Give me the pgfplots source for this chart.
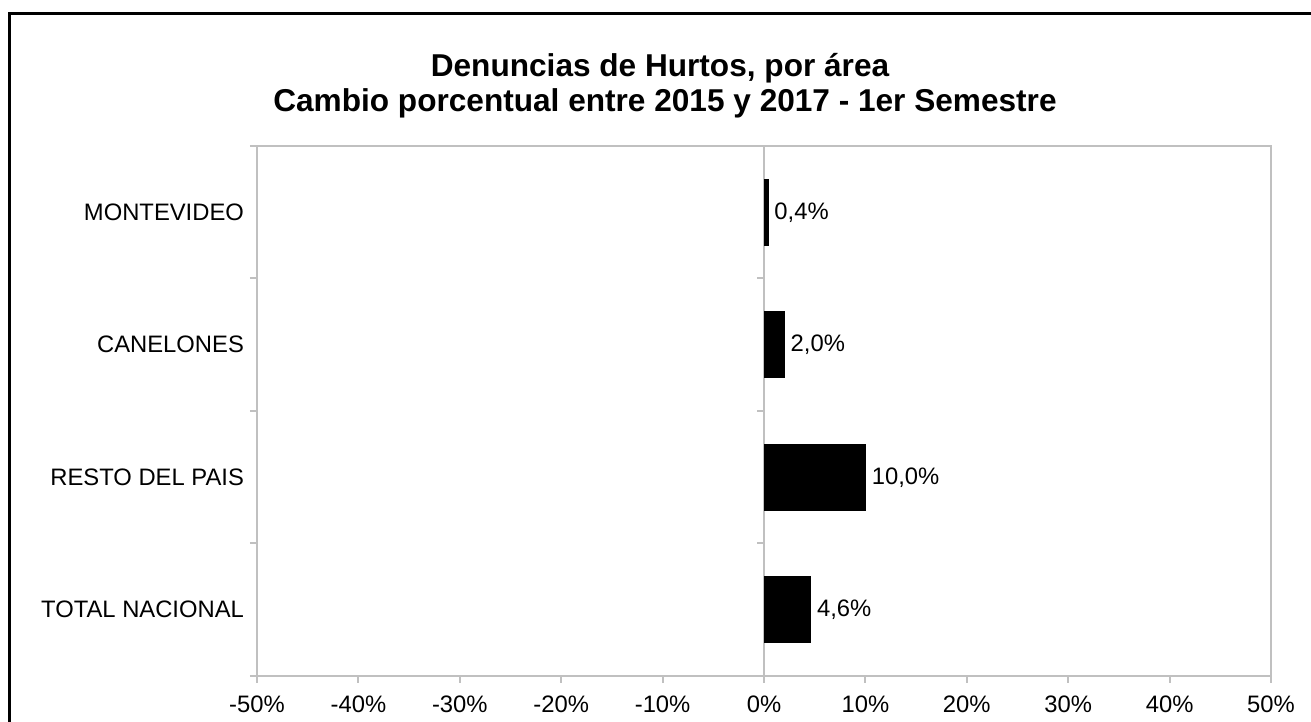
\documentclass[border=0pt]{standalone}
\usepackage{fontspec}
\setmainfont{Liberation Sans}
\usepackage{pgfplots}
\pgfplotsset{compat=1.18}
\definecolor{axgray}{RGB}{192,192,192}
\pgfplotsset{/pgf/number format/assume math mode=true}
\begin{document}
\begin{tikzpicture}
\useasboundingbox (0,0) rectangle (655.5pt,361pt);
\draw[line width=1.5pt] (4.5pt,-20pt) -- (4.5pt,354pt) -- (700pt,354pt);
\node[anchor=base,font=\bfseries\fontsize{15.8}{19}\selectfont] at (330pt,322.5pt) {Denuncias de Hurtos, por área};
\node[anchor=base,font=\bfseries\fontsize{15.8}{19}\selectfont] at (332.5pt,305pt) {Cambio porcentual entre 2015 y 2017 - 1er Semestre};
\begin{axis}[
  at={(128.5pt,23pt)}, anchor=south west,
  scale only axis, width=507pt, height=265pt,
  xbar, bar width=0.5,
  xmin=-50, xmax=50, ymin=-0.5, ymax=3.5,
  xtick={-50,-40,...,50},
  xticklabel={\pgfmathprintnumber{\tick}\%},
  xticklabel style={yshift=-3pt},
  ytick={-0.5,0.5,1.5,2.5,3.5},
  yticklabels={},
  extra y ticks={0,1,2,3},
  extra y tick labels={TOTAL NACIONAL,RESTO DEL PAIS,CANELONES,MONTEVIDEO},
  extra y tick style={major tick length=0pt, tick label style={xshift=-3pt}},
  tick align=outside, major tick length=3.5pt,
  axis line style={axgray, line width=1pt},
  every tick/.style={axgray, line width=1pt},
  tick label style={font=\fontsize{11.9}{14}\selectfont, black},
  xtick pos=bottom, ytick pos=left,
  point meta=x,
  nodes near coords={\pgfmathprintnumber[fixed,fixed zerofill,precision=1,use comma]{\pgfplotspointmeta}\%},
  nodes near coords style={font=\fontsize{11.9}{14}\selectfont, inner sep=1.5pt, xshift=1.5pt},
  clip=false,
]
\draw[axgray, line width=1pt] (axis cs:0,-0.5) -- (axis cs:0,3.5);
\draw[axgray, line width=1pt] (axis cs:0,0.5) -- ([xshift=-3.5pt]axis cs:0,0.5);
\draw[axgray, line width=1pt] (axis cs:0,1.5) -- ([xshift=-3.5pt]axis cs:0,1.5);
\draw[axgray, line width=1pt] (axis cs:0,2.5) -- ([xshift=-3.5pt]axis cs:0,2.5);
\draw[axgray, line width=1pt] (axis cs:0,3.5) -- ([xshift=-3.5pt]axis cs:0,3.5);
\addplot[fill=black, draw=black] coordinates {(4.6,0) (10.0,1) (2.0,2) (0.4,3)};
\end{axis}
\end{tikzpicture}
\end{document}
